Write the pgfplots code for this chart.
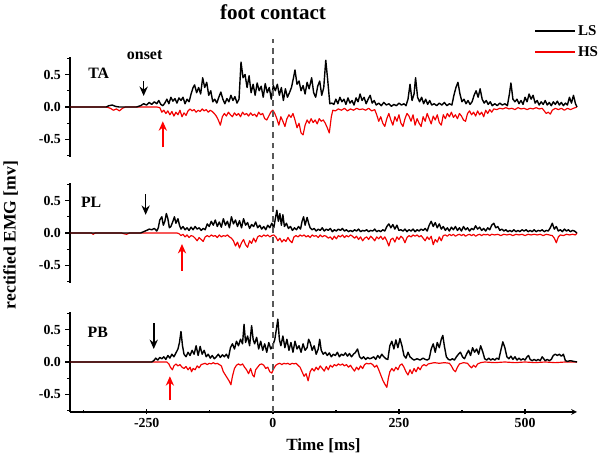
\documentclass[border=0pt]{standalone}
\usepackage{pgfplots}
\pgfplotsset{compat=1.18}
\usepackage{fontspec}
\setmainfont{Liberation Serif}
\usetikzlibrary{arrows.meta}

\pgfplotsset{
  panel/.style={
    scale only axis,
    width=15.21cm, height=3cm,
    xmin=-402, xmax=603,
    ymin=-0.77, ymax=0.77,
    axis y line=left,
    axis line style={-, line width=1.2pt},
    ytick={-0.5,0,0.5},
    yticklabels={-0.5,0.0,0.5},
    minor ytick={-0.75,-0.25,0.25,0.75},
    tick align=outside,
    major tick length=0.15cm,
    minor tick length=0.09cm,
    every tick/.style={black, line width=1.2pt},
    tick label style={font=\fontsize{11.8}{13}\selectfont\bfseries},
    /pgf/number format/assume math mode=true,
    clip=false,
  },
  ls/.style={black, line width=1.2pt, line join=round},
  hs/.style={red!95!black, line width=1pt, line join=round},
}
\tikzset{onsetarrow/.style={-{Stealth[length=8pt,width=7pt]}, line width=1.4pt}}

\begin{document}
\begin{tikzpicture}
\path[use as bounding box] (0,0) rectangle (18,13.92);

% ---- TA ----
\begin{axis}[panel, at={(2.1cm,9.21cm)}, anchor=south west, axis x line=none]
\addplot[hs] coordinates {
(-402,0) (-330,0) (-322,-0.02) (-316,-0.05) (-310,-0.03) (-304,-0.06) (-298,-0.02) (-292,0) (-230,0) (-224,-0.01) (-220,-0.08) (-216,-0.05) (-212,-0.10) (-208,-0.06) (-204,-0.12) (-200,-0.07) (-196,-0.14) (-192,-0.08) (-188,-0.12) (-184,-0.05) (-180,-0.15) (-176,-0.09) (-172,-0.13) (-168,-0.06) (-164,-0.03) (-160,-0.06) (-156,-0.04) (-152,-0.08) (-148,-0.05) (-144,-0.07) (-140,-0.03) (-136,-0.06) (-132,-0.04) (-128,-0.08) (-124,-0.05) (-120,-0.07) (-116,-0.10) (-112,-0.14) (-108,-0.20) (-104,-0.28) (-100,-0.15) (-96,-0.10) (-92,-0.14) (-88,-0.08) (-84,-0.12) (-80,-0.15) (-76,-0.09) (-72,-0.13) (-68,-0.10) (-64,-0.15) (-60,-0.08) (-56,-0.12) (-52,-0.10) (-48,-0.14) (-44,-0.09) (-40,-0.13) (-36,-0.11) (-32,-0.15) (-28,-0.08) (-24,-0.12) (-20,-0.10) (-16,-0.18) (-12,-0.20) (-8,-0.14) (-4,-0.08) (0,-0.05) (4,-0.10) (8,-0.18) (12,-0.28) (16,-0.15) (20,-0.22) (24,-0.30) (28,-0.18) (32,-0.12) (36,-0.16) (40,-0.10) (44,-0.20) (48,-0.32) (52,-0.25) (56,-0.40) (60,-0.43) (64,-0.28) (68,-0.20) (72,-0.25) (76,-0.18) (80,-0.24) (84,-0.20) (88,-0.26) (92,-0.18) (96,-0.22) (100,-0.20) (104,-0.25) (108,-0.32) (112,-0.40) (116,-0.15) (119,-0.05) (124,-0.06) (130,-0.03) (136,-0.05) (142,-0.02) (148,-0.06) (154,-0.03) (160,-0.05) (166,-0.02) (172,-0.04) (178,-0.03) (184,-0.05) (190,-0.02) (196,-0.06) (202,-0.04) (206,-0.12) (210,-0.22) (214,-0.15) (218,-0.25) (222,-0.30) (226,-0.18) (230,-0.10) (234,-0.20) (238,-0.28) (242,-0.15) (246,-0.22) (250,-0.12) (254,-0.25) (258,-0.30) (262,-0.18) (266,-0.10) (270,-0.14) (274,-0.22) (278,-0.12) (282,-0.28) (286,-0.18) (290,-0.25) (294,-0.30) (298,-0.15) (302,-0.22) (306,-0.10) (310,-0.18) (314,-0.26) (318,-0.14) (322,-0.20) (326,-0.12) (330,-0.24) (334,-0.28) (338,-0.12) (342,-0.18) (346,-0.10) (350,-0.15) (354,-0.08) (358,-0.16) (362,-0.12) (366,-0.18) (370,-0.10) (374,-0.14) (378,-0.20) (382,-0.22) (386,-0.10) (390,-0.06) (394,-0.12) (398,-0.08) (402,-0.14) (406,-0.06) (410,-0.12) (414,-0.08) (418,-0.15) (422,-0.05) (426,-0.10) (430,-0.04) (434,-0.08) (438,-0.03) (444,-0.04) (450,-0.02) (456,-0.03) (462,-0.01) (468,-0.03) (474,-0.02) (480,-0.04) (486,-0.01) (492,-0.03) (498,-0.02) (504,-0.04) (510,-0.02) (516,-0.03) (522,-0.01) (528,-0.03) (534,-0.02) (538,-0.06) (542,-0.10) (546,-0.08) (550,-0.11) (554,-0.05) (560,-0.02) (566,-0.04) (572,-0.02) (578,-0.05) (584,-0.02) (590,-0.04) (596,-0.02) (603,0)
};
\addplot[ls] coordinates {
(-402,0) (-330,0) (-325,0.02) (-318,0.03) (-312,0.01) (-305,0) (-270,0) (-262,0.02) (-256,0.05) (-250,0.03) (-245,0.07) (-240,0.04) (-235,0.08) (-230,0.05) (-226,0.10) (-222,0.04) (-218,0.02) (-214,0.06) (-210,0.12) (-206,0.05) (-202,0.15) (-198,0.09) (-194,0.13) (-190,0.06) (-186,0.14) (-182,0.10) (-178,0.15) (-174,0.05) (-170,0.12) (-166,0.08) (-162,0.20) (-158,0.30) (-155,0.34) (-151,0.22) (-147,0.30) (-143,0.20) (-139,0.45) (-135,0.30) (-131,0.38) (-127,0.18) (-123,0.25) (-119,0.08) (-115,0.12) (-111,0.06) (-107,0.15) (-103,0.23) (-99,0.12) (-95,0.05) (-91,0.13) (-87,0.08) (-83,0.18) (-79,0.10) (-75,0.16) (-71,0.06) (-67,0.12) (-63,0.69) (-59,0.45) (-55,0.50) (-51,0.30) (-47,0.48) (-43,0.22) (-39,0.35) (-35,0.18) (-31,0.37) (-27,0.25) (-23,0.32) (-19,0.15) (-15,0.36) (-11,0.22) (-7,0.30) (-3,0.12) (1,0.33) (5,0.25) (9,0.35) (13,0.18) (17,0.30) (21,0.10) (25,0.28) (29,0.15) (33,0.22) (37,0.30) (41,0.45) (44,0.57) (48,0.35) (52,0.40) (56,0.25) (60,0.33) (64,0.20) (68,0.38) (72,0.28) (77,0.45) (81,0.22) (85,0.15) (89,0.32) (93,0.40) (97,0.18) (101,0.30) (105,0.72) (109,0.40) (113,0.05) (117,0.06) (121,0.04) (125,0.12) (129,0.05) (133,0.15) (137,0.08) (141,0.12) (145,0.04) (149,0.14) (153,0.06) (157,0.10) (161,0.03) (165,0.14) (169,0.08) (173,0.20) (177,0.10) (181,0.15) (185,0.05) (189,0.12) (193,0.18) (197,0.06) (201,0.10) (205,0.03) (210,0.06) (215,0.02) (220,0.07) (225,0.03) (230,0.05) (235,0.01) (240,0.04) (245,0.02) (250,0.06) (255,0.03) (260,0.05) (264,0.02) (268,0.12) (272,0.35) (276,0.10) (280,0.20) (283,0.45) (287,0.15) (291,0.08) (295,0.15) (299,0.05) (303,0.12) (307,0.04) (311,0.10) (315,0.03) (320,0.05) (325,0.02) (330,0.06) (335,0.03) (340,0.07) (345,0.02) (350,0.05) (355,0.03) (359,0.18) (363,0.30) (367,0.38) (371,0.20) (375,0.08) (379,0.12) (383,0.05) (387,0.10) (391,0.04) (395,0.08) (399,0.18) (403,0.25) (407,0.15) (411,0.28) (415,0.12) (419,0.06) (423,0.10) (427,0.04) (431,0.08) (435,0.02) (440,0.05) (445,0.02) (450,0.06) (455,0.03) (460,0.05) (465,0.02) (469,0.20) (472,0.37) (476,0.12) (480,0.08) (484,0.12) (488,0.05) (492,0.10) (496,0.04) (500,0.15) (504,0.08) (508,0.20) (512,0.12) (516,0.18) (520,0.06) (524,0.10) (528,0.03) (532,0.08) (536,0.04) (540,0.10) (544,0.03) (548,0.07) (552,0.02) (556,0.08) (560,0.04) (564,0.09) (568,0.03) (572,0.07) (576,0.02) (580,0.06) (584,0.03) (588,0.15) (592,0.06) (596,0.18) (600,0.05) (603,0)
};
\node[font=\fontsize{13.5}{15}\selectfont\bfseries] at (axis cs:-345,0.52) {TA};
\node[font=\fontsize{13.6}{15}\selectfont\bfseries] at (axis cs:-254,0.80) {onset};
\draw[onsetarrow, black] (axis cs:-256,0.40) -- (axis cs:-256,0.17);
\draw[onsetarrow, red] (axis cs:-218,-0.62) -- (axis cs:-218,-0.22);
\end{axis}

% ---- PL ----
\begin{axis}[panel, at={(2.1cm,5.43cm)}, anchor=south west, axis x line=none]
\addplot[hs] coordinates {
(-402,0) (-360,0) (-356,-0.02) (-352,0) (-300,0) (-296,-0.01) (-290,-0.02) (-284,0) (-190,0) (-186,-0.01) (-182,-0.04) (-178,-0.02) (-174,-0.06) (-170,-0.03) (-166,-0.07) (-162,-0.04) (-158,-0.05) (-154,-0.08) (-150,-0.12) (-146,-0.07) (-142,-0.10) (-138,-0.13) (-134,-0.06) (-130,-0.04) (-126,-0.06) (-122,-0.03) (-118,-0.05) (-114,-0.04) (-110,-0.07) (-106,-0.03) (-102,-0.06) (-98,-0.04) (-94,-0.05) (-90,-0.03) (-86,-0.06) (-82,-0.08) (-78,-0.12) (-74,-0.20) (-70,-0.14) (-66,-0.23) (-62,-0.15) (-58,-0.10) (-54,-0.18) (-50,-0.22) (-46,-0.12) (-42,-0.16) (-38,-0.08) (-34,-0.14) (-30,-0.06) (-26,-0.04) (-22,-0.06) (-18,-0.03) (-14,-0.05) (-10,-0.03) (-6,-0.06) (-2,-0.04) (2,-0.03) (6,-0.06) (10,-0.12) (14,-0.08) (18,-0.14) (22,-0.10) (26,-0.13) (30,-0.07) (34,-0.12) (38,-0.15) (42,-0.06) (46,-0.04) (50,-0.06) (54,-0.03) (58,-0.05) (62,-0.03) (66,-0.06) (70,-0.04) (74,-0.07) (78,-0.03) (82,-0.05) (86,-0.04) (90,-0.07) (94,-0.03) (98,-0.06) (102,-0.04) (106,-0.05) (110,-0.08) (114,-0.06) (118,-0.10) (122,-0.05) (126,-0.09) (130,-0.04) (134,-0.06) (138,-0.03) (142,-0.07) (146,-0.04) (150,-0.06) (154,-0.03) (158,-0.05) (162,-0.08) (166,-0.05) (170,-0.10) (174,-0.06) (178,-0.12) (182,-0.08) (186,-0.06) (190,-0.10) (194,-0.05) (198,-0.08) (202,-0.12) (206,-0.06) (210,-0.09) (214,-0.05) (218,-0.10) (222,-0.06) (226,-0.12) (230,-0.20) (234,-0.10) (238,-0.08) (242,-0.14) (246,-0.06) (250,-0.10) (254,-0.05) (258,-0.08) (262,-0.15) (266,-0.07) (270,-0.04) (274,-0.06) (278,-0.03) (282,-0.05) (286,-0.03) (290,-0.06) (294,-0.04) (298,-0.08) (302,-0.12) (306,-0.06) (310,-0.10) (314,-0.05) (318,-0.18) (322,-0.10) (326,-0.14) (330,-0.06) (334,-0.12) (338,-0.04) (342,-0.03) (346,-0.05) (350,-0.02) (354,-0.04) (358,-0.02) (362,-0.05) (366,-0.03) (370,-0.02) (374,-0.04) (378,-0.02) (382,-0.05) (386,-0.03) (390,-0.02) (394,-0.04) (398,-0.02) (402,-0.05) (406,-0.03) (410,-0.02) (414,-0.04) (418,-0.02) (422,-0.03) (426,-0.02) (430,-0.04) (434,-0.02) (440,-0.03) (446,-0.02) (452,-0.04) (458,-0.02) (464,-0.03) (470,-0.02) (476,-0.04) (482,-0.02) (488,-0.03) (494,-0.02) (500,-0.04) (506,-0.02) (512,-0.03) (518,-0.02) (524,-0.03) (530,-0.02) (536,-0.04) (542,-0.02) (548,-0.03) (554,-0.04) (558,-0.08) (562,-0.15) (566,-0.06) (570,-0.03) (576,-0.04) (582,-0.02) (588,-0.03) (594,-0.02) (600,-0.03) (603,0)
};
\addplot[ls] coordinates {
(-402,0) (-262,0) (-256,0.02) (-250,0.04) (-245,0.06) (-240,0.05) (-235,0.07) (-230,0.03) (-227,0.08) (-224,0.20) (-220,0.25) (-217,0.12) (-214,0.18) (-211,0.30) (-208,0.22) (-205,0.08) (-202,0.10) (-198,0.18) (-195,0.25) (-192,0.15) (-188,0.22) (-185,0.12) (-182,0.06) (-178,0.10) (-174,0.05) (-170,0.08) (-166,0.04) (-162,0.09) (-158,0.05) (-154,0.10) (-150,0.06) (-146,0.08) (-142,0.04) (-138,0.07) (-134,0.05) (-130,0.14) (-126,0.10) (-122,0.18) (-118,0.12) (-114,0.20) (-110,0.10) (-106,0.17) (-102,0.09) (-98,0.22) (-94,0.12) (-90,0.18) (-86,0.08) (-82,0.25) (-78,0.14) (-74,0.20) (-70,0.10) (-66,0.19) (-62,0.08) (-58,0.22) (-54,0.12) (-50,0.16) (-46,0.07) (-42,0.13) (-38,0.10) (-34,0.17) (-30,0.08) (-26,0.12) (-22,0.06) (-18,0.10) (-14,0.05) (-10,0.12) (-6,0.08) (-2,0.15) (2,0.08) (5,0.22) (8,0.35) (11,0.18) (14,0.30) (17,0.12) (20,0.28) (23,0.10) (27,0.15) (31,0.07) (35,0.10) (39,0.04) (43,0.08) (47,0.05) (51,0.10) (55,0.06) (58,0.18) (61,0.25) (64,0.12) (68,0.24) (71,0.15) (74,0.08) (78,0.05) (82,0.07) (86,0.03) (90,0.06) (94,0.04) (98,0.08) (102,0.03) (106,0.06) (110,0.04) (114,0.07) (118,0.02) (122,0.05) (126,0.03) (130,0.06) (134,0.04) (138,0.07) (142,0.03) (146,0.05) (150,0.02) (154,0.04) (158,0.02) (162,0.05) (166,0.03) (170,0.06) (174,0.02) (178,0.04) (182,0.03) (186,0.05) (190,0.02) (194,0.04) (198,0.03) (202,0.06) (206,0.02) (210,0.04) (214,0.02) (218,0.05) (222,0.03) (226,0.10) (230,0.14) (234,0.08) (238,0.13) (242,0.06) (246,0.12) (250,0.04) (254,0.05) (258,0.03) (262,0.06) (266,0.02) (270,0.05) (274,0.03) (278,0.06) (282,0.02) (286,0.05) (290,0.03) (294,0.06) (298,0.04) (302,0.07) (306,0.03) (310,0.12) (314,0.18) (318,0.10) (322,0.16) (326,0.08) (330,0.14) (334,0.06) (338,0.10) (342,0.04) (346,0.08) (350,0.03) (354,0.09) (358,0.05) (362,0.10) (366,0.04) (370,0.08) (374,0.03) (378,0.10) (382,0.05) (386,0.08) (390,0.03) (394,0.07) (398,0.05) (402,0.11) (406,0.06) (410,0.09) (414,0.04) (418,0.07) (422,0.03) (426,0.08) (430,0.05) (434,0.12) (438,0.15) (442,0.08) (446,0.10) (450,0.04) (454,0.06) (458,0.03) (462,0.05) (466,0.02) (470,0.04) (474,0.02) (478,0.05) (482,0.02) (486,0.04) (490,0.02) (494,0.05) (498,0.03) (502,0.05) (506,0.02) (510,0.04) (514,0.02) (518,0.05) (522,0.02) (526,0.04) (530,0.03) (534,0.05) (538,0.02) (542,0.04) (546,0.03) (550,0.08) (554,0.15) (558,0.06) (562,0.10) (566,0.03) (570,0.05) (574,0.02) (578,0.06) (582,0.03) (586,0.05) (590,0.02) (594,0.04) (598,0.03) (603,0)
};
\node[font=\fontsize{13.5}{15}\selectfont\bfseries] at (axis cs:-360,0.47) {PL};
\draw[onsetarrow, black] (axis cs:-252,0.60) -- (axis cs:-252,0.28);
\draw[onsetarrow, red] (axis cs:-180,-0.58) -- (axis cs:-180,-0.17);
\end{axis}

% ---- PB ----
\begin{axis}[panel, at={(2.1cm,1.56cm)}, anchor=south west, axis x line=bottom,
  xtick={-250,0,250,500}, xticklabels={-250,0,250,500},
  minor xtick={-375,-125,125,375},
  xlabel={Time [ms]},
  xlabel style={font=\fontsize{14.6}{16}\selectfont\bfseries, yshift=-2pt}]
\addplot[hs] coordinates {
(-402,0) (-210,0) (-206,-0.03) (-203,-0.08) (-199,-0.12) (-196,-0.06) (-192,-0.03) (-188,-0.06) (-184,-0.04) (-180,-0.08) (-176,-0.10) (-172,-0.07) (-168,-0.12) (-164,-0.08) (-161,-0.15) (-158,-0.10) (-154,-0.12) (-150,-0.06) (-146,-0.09) (-142,-0.04) (-138,-0.03) (-134,-0.02) (-130,-0.04) (-126,-0.02) (-122,-0.03) (-118,-0.01) (-114,-0.03) (-110,-0.02) (-106,-0.04) (-102,-0.06) (-98,-0.15) (-94,-0.20) (-90,-0.25) (-86,-0.30) (-83,-0.35) (-80,-0.22) (-76,-0.10) (-72,-0.05) (-68,-0.03) (-64,-0.05) (-60,-0.03) (-56,-0.08) (-52,-0.12) (-48,-0.18) (-44,-0.10) (-40,-0.20) (-37,-0.23) (-34,-0.12) (-30,-0.08) (-26,-0.04) (-22,-0.03) (-18,-0.05) (-14,-0.10) (-10,-0.08) (-6,-0.15) (-2,-0.17) (2,-0.10) (6,-0.05) (10,-0.03) (14,-0.02) (18,-0.04) (22,-0.02) (26,-0.03) (30,-0.02) (34,-0.04) (38,-0.02) (42,-0.03) (46,-0.02) (50,-0.05) (54,-0.08) (58,-0.15) (62,-0.22) (66,-0.18) (70,-0.29) (74,-0.15) (78,-0.10) (82,-0.14) (86,-0.08) (90,-0.12) (94,-0.06) (98,-0.10) (102,-0.14) (106,-0.07) (110,-0.12) (114,-0.05) (118,-0.08) (122,-0.04) (126,-0.06) (130,-0.03) (134,-0.05) (138,-0.03) (142,-0.06) (146,-0.04) (150,-0.08) (154,-0.05) (158,-0.10) (162,-0.14) (166,-0.08) (170,-0.12) (174,-0.06) (178,-0.10) (182,-0.04) (186,-0.02) (190,-0.03) (194,-0.02) (198,-0.04) (202,-0.08) (206,-0.05) (210,-0.12) (214,-0.20) (218,-0.28) (222,-0.34) (226,-0.39) (229,-0.25) (232,-0.15) (236,-0.10) (240,-0.14) (244,-0.08) (248,-0.12) (252,-0.05) (256,-0.03) (260,-0.08) (264,-0.15) (268,-0.20) (272,-0.12) (276,-0.18) (280,-0.10) (284,-0.15) (288,-0.08) (292,-0.12) (296,-0.06) (300,-0.04) (304,-0.06) (308,-0.03) (314,-0.02) (320,-0.01) (330,-0.02) (340,-0.01) (350,-0.02) (354,-0.06) (358,-0.12) (362,-0.15) (366,-0.08) (370,-0.03) (378,-0.01) (386,-0.02) (390,-0.06) (394,-0.09) (398,-0.05) (402,-0.08) (406,-0.03) (412,-0.01) (420,0) (440,-0.01) (460,0) (480,-0.01) (500,0) (520,-0.01) (540,0) (560,-0.01) (580,0) (603,0)
};
\addplot[ls] coordinates {
(-402,0) (-240,0) (-236,0.02) (-232,0.06) (-228,0.03) (-224,0.07) (-220,0.05) (-216,0.08) (-212,0.04) (-208,0.10) (-204,0.06) (-200,0.12) (-196,0.08) (-192,0.14) (-188,0.20) (-185,0.30) (-182,0.47) (-179,0.25) (-176,0.12) (-172,0.08) (-168,0.15) (-164,0.10) (-160,0.18) (-156,0.12) (-152,0.25) (-148,0.10) (-144,0.24) (-140,0.12) (-136,0.18) (-132,0.08) (-128,0.12) (-124,0.06) (-120,0.10) (-116,0.05) (-112,0.08) (-108,0.12) (-104,0.07) (-100,0.11) (-96,0.08) (-92,0.12) (-88,0.06) (-84,0.22) (-80,0.28) (-76,0.20) (-72,0.32) (-68,0.25) (-64,0.35) (-60,0.28) (-57,0.58) (-54,0.30) (-50,0.40) (-46,0.25) (-42,0.56) (-39,0.35) (-36,0.28) (-32,0.38) (-28,0.20) (-24,0.32) (-20,0.18) (-16,0.28) (-12,0.15) (-8,0.30) (-4,0.20) (0,0.25) (4,0.35) (7,0.50) (10,0.66) (13,0.35) (16,0.25) (20,0.40) (24,0.22) (28,0.35) (32,0.18) (36,0.30) (40,0.15) (44,0.32) (48,0.20) (52,0.25) (56,0.15) (60,0.28) (64,0.18) (68,0.22) (71,0.35) (74,0.30) (78,0.18) (82,0.25) (86,0.12) (90,0.20) (93,0.35) (96,0.18) (100,0.12) (104,0.15) (108,0.10) (112,0.14) (116,0.08) (120,0.12) (124,0.10) (128,0.15) (132,0.08) (136,0.12) (140,0.10) (144,0.14) (148,0.09) (152,0.13) (156,0.08) (160,0.12) (164,0.15) (168,0.20) (172,0.08) (176,0.05) (180,0.08) (184,0.04) (188,0.07) (192,0.05) (196,0.06) (200,0.08) (204,0.04) (208,0.10) (212,0.06) (216,0.12) (220,0.08) (224,0.05) (228,0.04) (232,0.25) (236,0.32) (240,0.20) (244,0.34) (248,0.22) (252,0.36) (256,0.25) (260,0.10) (264,0.06) (268,0.15) (272,0.08) (276,0.05) (280,0.03) (286,0.05) (292,0.03) (298,0.06) (302,0.04) (306,0.03) (310,0.05) (314,0.20) (318,0.28) (322,0.15) (326,0.30) (330,0.22) (334,0.35) (337,0.41) (340,0.25) (344,0.08) (348,0.04) (352,0.03) (356,0.05) (360,0.03) (364,0.08) (368,0.12) (372,0.15) (376,0.08) (380,0.05) (384,0.12) (388,0.18) (392,0.10) (396,0.22) (400,0.15) (404,0.20) (408,0.12) (412,0.25) (416,0.16) (420,0.05) (424,0.03) (428,0.06) (432,0.03) (436,0.05) (440,0.03) (444,0.06) (448,0.04) (452,0.18) (456,0.31) (460,0.22) (464,0.08) (468,0.05) (472,0.09) (476,0.04) (480,0.08) (484,0.03) (488,0.06) (492,0.03) (496,0.05) (500,0.03) (504,0.08) (507,0.10) (510,0.04) (514,0.02) (518,0.04) (522,0.02) (526,0.04) (530,0.02) (534,0.08) (537,0.05) (540,0.02) (544,0.04) (548,0.02) (552,0.04) (556,0.10) (560,0.12) (564,0.10) (568,0.12) (572,0.09) (576,0.12) (580,0.02) (584,0.01) (590,0.02) (596,0.01) (603,0)
};
\node[font=\fontsize{13.5}{15}\selectfont\bfseries] at (axis cs:-347,0.45) {PB};
\draw[onsetarrow, black] (axis cs:-236,0.60) -- (axis cs:-236,0.20);
\draw[onsetarrow, red] (axis cs:-204,-0.59) -- (axis cs:-204,-0.22);
% foot contact marker through all panels
\draw[dash pattern=on 5pt off 4pt, line width=1.3pt, black!65] (axis cs:0,-0.77) -- (axis cs:0,4.97);
\end{axis}

% titles, labels, legend
\node[font=\fontsize{18}{20}\selectfont\bfseries] at (8.19,13.56) {foot contact};
\node[rotate=90, font=\fontsize{15}{17}\selectfont\bfseries] at (0.32,6.87) {rectified EMG [mv]};
\draw[black, line width=1.2pt] (16.05,12.99) -- (17.25,12.99);
\node[anchor=west, font=\fontsize{12.8}{14}\selectfont\bfseries, inner sep=1pt] at (17.3,12.99) {LS};
\draw[red!95!black, line width=1pt] (16.05,12.36) -- (17.25,12.36);
\node[anchor=west, font=\fontsize{12.8}{14}\selectfont\bfseries, inner sep=1pt] at (17.3,12.36) {HS};
\end{tikzpicture}
\end{document}
